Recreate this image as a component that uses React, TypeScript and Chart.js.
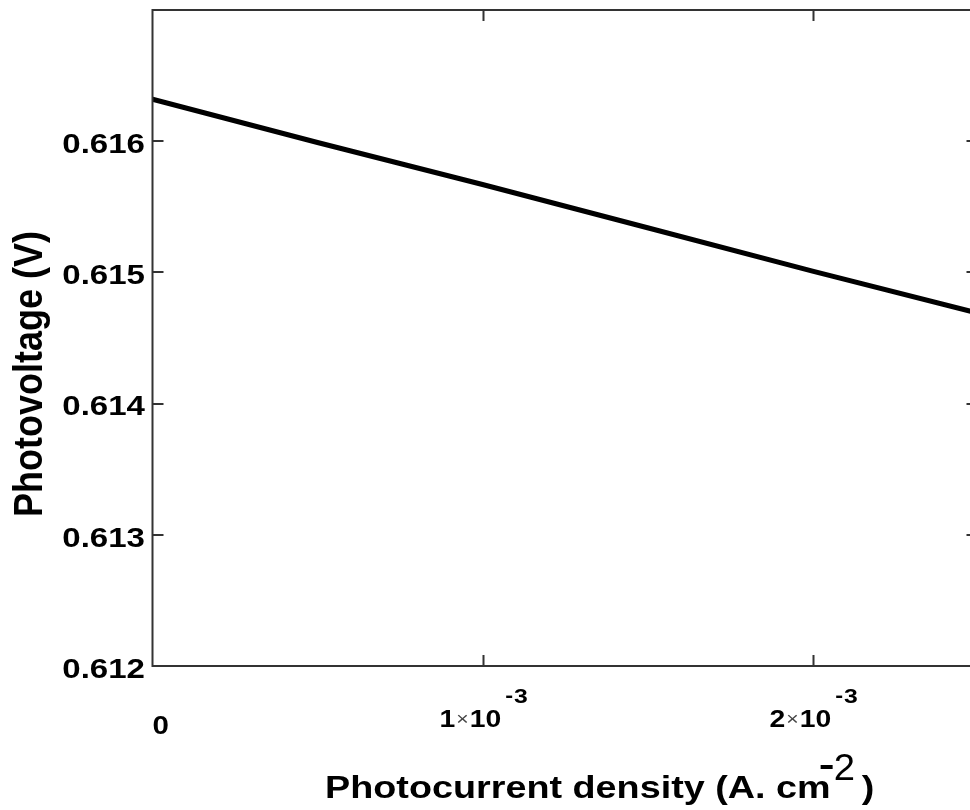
import React, { useEffect, useRef } from "react";
import { Chart, registerables } from "chart.js";

Chart.register(...registerables);

const currentDensity = [0, 0.0005, 0.001, 0.0015, 0.002, 0.0025];
const photovoltage = [0.61632, 0.61599, 0.61567, 0.61534, 0.61501, 0.61469];
const yTicks = [0.612, 0.613, 0.614, 0.615, 0.616];
const xTicks = [0, 0.001, 0.002];
const xTickMantissa = ["0", "1", "2"];
const xTitle = "Photocurrent density (A. cm";
const yTitle = "Photovoltage (V)";

const FONT = "'Liberation Sans', Arial, sans-serif";
const SX = 1.18;

const framePlugin = {
  id: "framePlugin",
  afterDraw(chart: any) {
    const { ctx, chartArea: a, scales } = chart;
    const xs = scales.x;
    const ys = scales.y;
    ctx.save();
    ctx.strokeStyle = "#333";
    ctx.lineWidth = 2;
    ctx.strokeRect(a.left, a.top, a.right - a.left, a.bottom - a.top);
    const tl = 11;
    ctx.beginPath();
    for (const v of xTicks) {
      const px = Math.round(xs.getPixelForValue(v)) + 0.5;
      if (v === 0) continue;
      ctx.moveTo(px, a.bottom);
      ctx.lineTo(px, a.bottom - tl);
      ctx.moveTo(px, a.top);
      ctx.lineTo(px, a.top + tl);
    }
    for (const v of yTicks) {
      const py = Math.round(ys.getPixelForValue(v));
      if (v === 0.612) continue;
      ctx.moveTo(a.left, py);
      ctx.lineTo(a.left + tl, py);
      ctx.moveTo(a.right, py);
      ctx.lineTo(a.right - tl, py);
    }
    ctx.stroke();

    ctx.fillStyle = "#000";
    // y tick labels
    ctx.textAlign = "right";
    ctx.textBaseline = "middle";
    ctx.font = `bold 28px ${FONT}`;
    for (const v of yTicks) {
      const py = ys.getPixelForValue(v);
      ctx.save();
      ctx.translate(145, py + 4);
      ctx.scale(SX, 1);
      ctx.fillText(v.toFixed(3), 0, 0);
      ctx.restore();
    }

    // x tick labels
    ctx.textAlign = "left";
    ctx.textBaseline = "alphabetic";
    xTicks.forEach((v, i) => {
      const px = xs.getPixelForValue(v);
      if (v === 0) {
        ctx.save();
        ctx.translate(px, 734);
        ctx.scale(SX, 1);
        ctx.font = `bold 25px ${FONT}`;
        ctx.fillText(xTickMantissa[i], 0, 0);
        ctx.restore();
        return;
      }
      let x = px - 43;
      const draw = (t: string, font: string, base: number, color: string, gap: number) => {
        ctx.save();
        ctx.font = font;
        ctx.fillStyle = color;
        ctx.translate(x, base);
        ctx.scale(SX, 1);
        ctx.fillText(t, 0, 0);
        const w = ctx.measureText(t).width * SX;
        ctx.restore();
        x += w + gap;
      };
      draw(xTickMantissa[i], `bold 24px ${FONT}`, 727, "#000", 1);
      draw("\u00d7", `18px ${FONT}`, 725, "#444", 1);
      draw("10", `bold 24px ${FONT}`, 727, "#000", 4);
      draw("-", `bold 20px ${FONT}`, 702, "#000", 1);
      draw("3", `bold 21px ${FONT}`, 703, "#000", 0);
    });

    // x title
    ctx.save();
    ctx.font = `bold 32px ${FONT}`;
    ctx.translate(325, 798);
    ctx.scale(SX, 1);
    ctx.fillText(xTitle, 0, 0);
    const tw = ctx.measureText(xTitle).width * SX;
    ctx.restore();
    const endX = 325 + tw;
    ctx.save();
    ctx.fillRect(endX - 10, 765, 12, 4);
    ctx.font = `36px ${FONT}`;
    ctx.translate(endX + 3, 780);
    ctx.scale(SX * 0.9, 1);
    ctx.fillText("2", 0, 0);
    ctx.restore();
    ctx.save();
    ctx.font = `bold 32px ${FONT}`;
    ctx.translate(endX + 31, 798);
    ctx.scale(SX, 1);
    ctx.fillText(")", 0, 0);
    ctx.restore();

    // y title
    ctx.save();
    ctx.font = `bold 36px ${FONT}`;
    ctx.textAlign = "center";
    ctx.textBaseline = "alphabetic";
    ctx.translate(42, 374);
    ctx.scale(1.12, 1);
    ctx.rotate(-Math.PI / 2);
    ctx.fillText(yTitle, 0, 0);
    ctx.restore();

    ctx.restore();
  },
};

export default function App() {
  const ref = useRef<HTMLCanvasElement>(null);
  useEffect(() => {
    if (!ref.current) return;
    const chart = new Chart(ref.current, {
      type: "line",
      data: {
        datasets: [
          {
            data: currentDensity.map((x, i) => ({ x, y: photovoltage[i] })),
            borderColor: "#000",
            borderWidth: 5,
            pointRadius: 0,
            fill: false,
            tension: 0,
          },
        ],
      },
      options: {
        animation: false,
        responsive: false,
        devicePixelRatio: 1,
        layout: { padding: { left: 152.5, top: 10, right: 12.5, bottom: 144 } },
        plugins: { legend: { display: false }, tooltip: { enabled: false } },
        scales: {
          x: { type: "linear", min: 0, max: 0.0025, display: false },
          y: { type: "linear", min: 0.612, max: 0.617, display: false },
        },
      },
      plugins: [framePlugin],
    });
    return () => chart.destroy();
  }, []);
  return (
    <div
      style={{
        position: "fixed",
        left: 0,
        top: 0,
        width: 970,
        height: 810,
        overflow: "hidden",
        background: "#fff",
      }}
    >
      <canvas ref={ref} width={990} height={810} style={{ display: "block" }} />
    </div>
  );
}
